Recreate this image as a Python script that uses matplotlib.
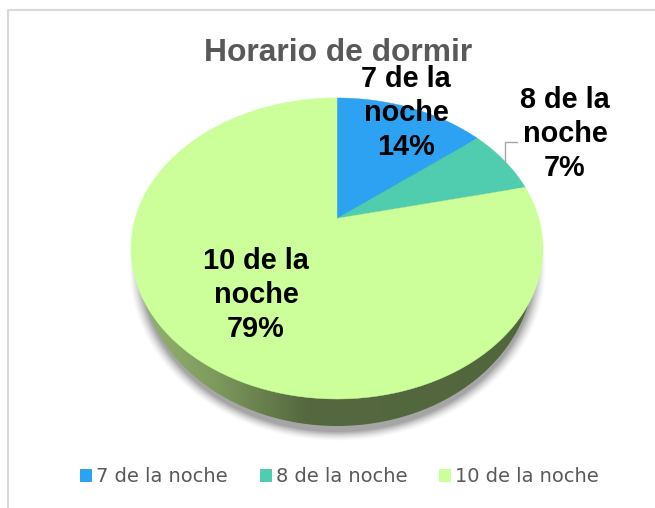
import numpy as np
import matplotlib
matplotlib.use("Agg")
import matplotlib.pyplot as plt
from matplotlib.patches import PathPatch, Ellipse, Patch
from matplotlib.path import Path
from matplotlib.transforms import Affine2D
from matplotlib.colors import LinearSegmentedColormap

categories = ["7 de la noche", "8 de la noche", "10 de la noche"]
values = [14.3, 7.1, 78.6]
colors = ["#2EA2F2", "#4FCDAE", "#CCFF99"]
title = "Horario de dormir"

W, H = 655, 508
fig = plt.figure(figsize=(W / 100, H / 100), dpi=100)
ax = fig.add_axes([0, 0, 1, 1])

# pie gives the wedges on a unit circle, then they get tilted like the 3d one
wedges, _ = ax.pie(values, colors=colors, startangle=90, counterclock=False, radius=1)

cx, cy, rx, ry = 337, 248.5, 206, 150.5
tilt = 0.2


def tilted(pts):
    d = 1 + tilt * pts[:, 1]
    x = cx + rx * np.sqrt(1 - tilt ** 2) * pts[:, 0] / d
    y = cy - ry * (pts[:, 1] + tilt) / d
    return np.column_stack([x, y])


ax.set_aspect("auto")
ax.set_xlim(0, W)
ax.set_ylim(H, 0)
ax.axis("off")

# frame of the chart, only left and top show
ax.plot([8, 8, W], [H, 10, 10], color="#D9D9D9", lw=1.5, zorder=1)

# soft shadow below the pie
yy, xx = np.mgrid[0:H, 0:W]
dist = np.hypot((xx - 337) / 197.0, (yy - 268) / 163.0)
shadow = np.zeros((H, W, 4))
shadow[..., :3] = 0.5
shadow[..., 3] = np.clip((1.06 - dist) / 0.06, 0, 1) ** 1.5 * 0.7
ax.imshow(shadow, extent=(0, W, H, 0), zorder=2, aspect="auto", interpolation="bilinear")

# side of the pie, light on the left going dark
side_cmap = LinearSegmentedColormap.from_list(
    "side", [(0, "#93B370"), (0.18, "#7F9C5E"), (0.42, "#55683F"), (1, "#52663D")]
)
side = ax.imshow(
    np.linspace(0, 1, 256).reshape(1, -1),
    extent=(140, 535, H, 0),
    cmap=side_cmap,
    aspect="auto",
    zorder=3,
)
side_clip = Ellipse((337, 266), 394, 320, transform=ax.transData)
side.set_clip_path(side_clip)

ax.set_xlim(0, W)
ax.set_ylim(H, 0)

# top face
handles = []
for w, c, name in zip(wedges, colors, categories):
    pts = w.get_path().to_polygons(Affine2D().scale(1000))[0] / 1000
    w.remove()
    ax.add_patch(PathPatch(Path(tilted(pts)), facecolor=c, edgecolor=c, lw=0.3, zorder=4))
    handles.append(Patch(facecolor=c, edgecolor="none", label=name))

ax.text(338, 53, title, ha="center", va="center", fontsize=22.9, fontweight="bold",
        color="#595959", family="Liberation Sans", zorder=6)

# data labels
label_pos = [(406, 113), (565, 134), (256, 295)]
label_txt = ["7 de la\nnoche\n14%", "8 de la\nnoche\n7%", "10 de la\nnoche\n79%"]
for (lx, ly), txt in zip(label_pos, label_txt):
    ax.text(lx, ly, txt, ha="center", va="center", fontsize=20.8, fontweight="bold",
            color="black", family="Liberation Sans", linespacing=1.28, zorder=6)

# leader line for the 8 label
ax.plot([517, 505, 505], [142, 142, 162], color="#A6A6A6", lw=1, zorder=5)

leg = ax.legend(handles=handles, ncol=3, loc="center", bbox_to_anchor=(339.5 / W, 1 - 477 / H),
                frameon=False, handlelength=0.63, handleheight=0.63, handletextpad=0.2,
                columnspacing=1.65, prop={"family": "DejaVu Sans", "size": 13.95}, labelcolor="#595959")

fig.savefig("out.png", dpi=100)
